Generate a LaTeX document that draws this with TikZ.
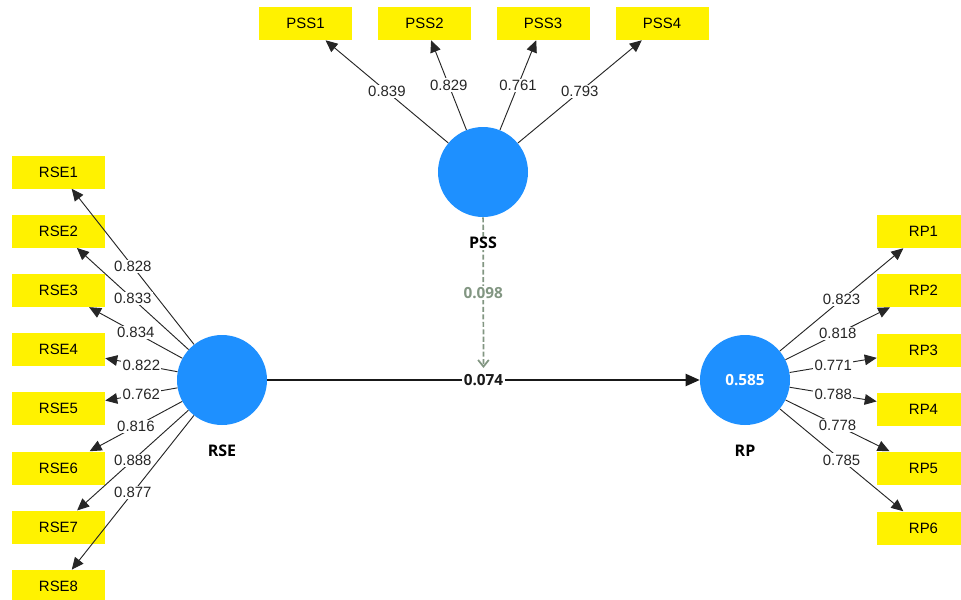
\documentclass[tikz,border=0pt]{standalone}
\usepackage{fontspec}
\setmainfont{Liberation Sans}
\newfontfamily\lvfont{Open Sans}
\usetikzlibrary{arrows.meta}

\definecolor{lvblue}{RGB}{30,144,255}
\definecolor{modgray}{RGB}{130,150,130}

\tikzset{
    item/.style={fill=yellow, minimum width=69.75pt, minimum height=24.75pt, inner sep=0pt, font=\fontsize{11.2}{13}\selectfont},
    latent/.style={circle, fill=lvblue, minimum size=67.5pt, inner sep=0pt, text=white, font=\lvfont\bfseries\fontsize{11.5}{13}\selectfont},
    lvname/.style={fill=white, inner sep=1pt, font=\lvfont\bfseries\fontsize{12}{14}\selectfont},
    load/.style={-{Triangle[length=9pt,width=8pt]}, line width=0.7pt, black!85},
    coef/.style={fill=white, inner sep=1pt, font=\fontsize{11.2}{13}\selectfont},
    path/.style={-{Triangle[length=10.5pt,width=9pt]}, line width=1.5pt, black!90},
    moddash/.style={-{Straight Barb[length=5pt,width=8pt]}, line width=1.3pt, modgray, dash pattern=on 3.8pt off 1.8pt}
}

\begin{document}
\begin{tikzpicture}[x=0.75pt, y=-0.75pt]
    \useasboundingbox (0,0) rectangle (961,600);

    % Latent degiskenler
    \node[latent] (pss) at (483,172) {};
    \node[latent] (rse) at (222,380) {};
    \node[latent] (rp) at (745,380) {0.585};

    % PSS gostergeleri
    \node[item] (pss1) at (305.5,23.5) {PSS1};
    \node[item] (pss2) at (424.5,23.5) {PSS2};
    \node[item] (pss3) at (543,23.5) {PSS3};
    \node[item] (pss4) at (662,23.5) {PSS4};

    % RSE gostergeleri
    \node[item] (rse1) at (58.5,172) {RSE1};
    \node[item] (rse2) at (58.5,231.2) {RSE2};
    \node[item] (rse3) at (58.5,290.4) {RSE3};
    \node[item] (rse4) at (58.5,349.6) {RSE4};
    \node[item] (rse5) at (58.5,408.8) {RSE5};
    \node[item] (rse6) at (58.5,468) {RSE6};
    \node[item] (rse7) at (58.5,527.2) {RSE7};
    \node[item] (rse8) at (58.5,586.4) {RSE8};

    % RP gostergeleri
    \node[item] (rp1) at (923.5,231.5) {RP1};
    \node[item] (rp2) at (923.5,290.5) {RP2};
    \node[item] (rp3) at (923.5,350) {RP3};
    \node[item] (rp4) at (923.5,409) {RP4};
    \node[item] (rp5) at (923.5,468) {RP5};
    \node[item] (rp6) at (923.5,528) {RP6};

    % PSS yukleri
    \draw[load] (pss) -- (pss1) node[midway, coef] {0.839};
    \draw[load] (pss) -- (pss2) node[midway, coef] {0.829};
    \draw[load] (pss) -- (pss3) node[midway, coef] {0.761};
    \draw[load] (pss) -- (pss4) node[midway, coef] {0.793};

    % RSE yukleri
    \draw[load] (rse) -- (rse1) node[midway, coef] {0.828};
    \draw[load] (rse) -- (rse2) node[midway, coef] {0.833};
    \draw[load] (rse) -- (rse3) node[midway, coef] {0.834};
    \draw[load] (rse) -- (rse4) node[midway, coef] {0.822};
    \draw[load] (rse) -- (rse5) node[midway, coef] {0.762};
    \draw[load] (rse) -- (rse6) node[midway, coef] {0.816};
    \draw[load] (rse) -- (rse7) node[midway, coef] {0.888};
    \draw[load] (rse) -- (rse8) node[midway, coef] {0.877};

    % RP yukleri
    \draw[load] (rp) -- (rp1) node[midway, coef] {0.823};
    \draw[load] (rp) -- (rp2) node[midway, coef] {0.818};
    \draw[load] (rp) -- (rp3) node[midway, coef] {0.771};
    \draw[load] (rp) -- (rp4) node[midway, coef] {0.788};
    \draw[load] (rp) -- (rp5) node[midway, coef] {0.778};
    \draw[load] (rp) -- (rp6) node[midway, coef] {0.785};

    % Yapisal yol
    \draw[path] (rse) -- (rp) node[midway, coef, inner ysep=4pt, font=\lvfont\bfseries\fontsize{11.5}{13}\selectfont] (beta) {0.074};

    % Duzenleyici etki
    \draw[moddash] (pss) -- (beta) node[midway, coef, text=modgray, font=\lvfont\bfseries\fontsize{11.5}{13}\selectfont] {0.098};

    % Latent adlari
    \node[lvname] (pssname) at (483,243) {PSS};
    \node[lvname] (rsename) at (222,451) {RSE};
    \node[lvname] (rpname) at (745,451) {RP};
\end{tikzpicture}
\end{document}
